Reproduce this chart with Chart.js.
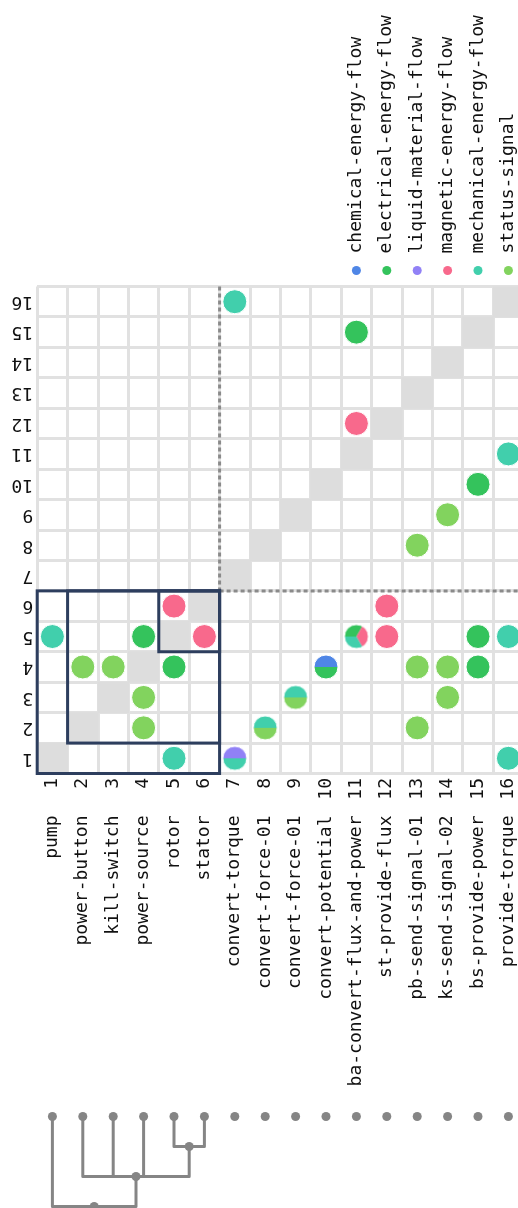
<!DOCTYPE html>
<html>
<head>
<meta charset="utf-8">
<script src="https://cdn.jsdelivr.net/npm/chart.js@4.4.1/dist/chart.umd.min.js"></script>
<style>
  html, body { margin: 0; padding: 0; background: #fff; overflow: hidden; }
  canvas { display: block; }
</style>
</head>
<body>
<canvas id="dsm" width="540" height="1215"></canvas>
<script>
// DSM of the pump model, drawn turned a quarter (labels read bottom to top)

const indexLabels = ['1', '2', '3', '4', '5', '6', '7', '8', '9', '10', '11', '12', '13', '14', '15', '16'];
const componentNames = [
  'pump', 'power-button', 'kill-switch', 'power-source', 'rotor', 'stator',
  'convert-torque', 'convert-force-01', 'convert-force-01', 'convert-potential',
  'ba-convert-flux-and-power', 'st-provide-flux', 'pb-send-signal-01',
  'ks-send-signal-02', 'bs-provide-power', 'provide-torque'
];
const flowTypes = [
  'chemical-energy-flow', 'electrical-energy-flow', 'liquid-material-flow',
  'magnetic-energy-flow', 'mechanical-energy-flow', 'status-signal'
];
const flowColors = ['#4f86e6', '#34c35c', '#9181f6', '#f8698c', '#41cfac', '#82d35e'];

// one entry per filled cell: column, row, flows (index into flowTypes)
const linkColumns = [7, 11, 11, 16, 15, 14, 13, 5, 12, 1, 4, 6, 11, 12, 15, 16, 2, 3, 5, 10, 13, 14, 15, 4, 9, 14, 4, 8, 13, 5, 7, 16];
const linkRows    = [16, 15, 12, 11, 10, 9, 8, 6, 6, 5, 5, 5, 5, 5, 5, 5, 4, 4, 4, 4, 4, 4, 4, 3, 3, 3, 2, 2, 2, 1, 1, 1];
const linkFlows = [
  [4], [1], [3], [4], [1], [5], [5],
  [3], [3],
  [4], [1], [3], [1, 3, 4], [3], [1], [4],
  [5], [5], [1], [0, 1], [5], [5], [1],
  [5], [4, 5], [5],
  [5], [4, 5], [5],
  [4], [2, 4], [4]
];

// nested clusters: first member of each, all end at the same element
const clusterStarts = [1, 2, 5];
const clusterEnd = 6;

// dendrogram merges ('mK' = result of merge K) and their heights
const mergeChildren = [[5, 6], [2, 3, 4, 'm0'], [1, 'm1']];
const mergeHeights = [1, 2, 3];

const n = indexLabels.length;
const edges = indexLabels.map((_, i) => i + 0.5).concat([n + 0.5]);
const FONT = '18px "DejaVu Sans Mono", monospace';
const GRAY = '#858585';

function pieImage(flows) {
  const r = 12;
  const c = document.createElement('canvas');
  c.width = c.height = 2 * r + 2;
  const g = c.getContext('2d');
  const step = 2 * Math.PI / flows.length;
  flows.forEach((f, k) => {
    g.beginPath();
    g.moveTo(r + 1, r + 1);
    g.arc(r + 1, r + 1, r, Math.PI + k * step, Math.PI + (k + 1) * step);
    g.closePath();
    g.fillStyle = flowColors[f];
    g.fill();
  });
  g.beginPath();
  g.arc(r + 1, r + 1, r, 0, 2 * Math.PI);
  g.strokeStyle = '#fff';
  g.lineWidth = 1;
  g.stroke();
  return c;
}

const linkData = linkColumns.map((c, i) => ({ x: c, y: linkRows[i] }));
const linkStyles = linkFlows.map(f => f.length > 1 ? pieImage(f) : 'circle');
const linkFill = linkFlows.map(f => flowColors[f[0]]);
const diagData = indexLabels.map((_, i) => ({ x: i + 1, y: i + 1 }));

function cellRadius(ctx) {
  const s = ctx.chart.scales.x;
  return (Math.abs(s.getPixelForValue(1) - s.getPixelForValue(0)) + 1) / Math.SQRT2;
}

function axis(horizontal) {
  return {
    type: 'linear',
    min: 0.5,
    max: n + 0.5,
    afterBuildTicks: s => { s.ticks = edges.map(v => ({ value: v })); },
    afterFit: s => { if (horizontal) s.height = 0; else s.width = 0; },
    ticks: { display: false },
    grid: { color: '#e1e1e1', lineWidth: 3, drawTicks: false },
    border: { display: false }
  };
}

function upText(ctx, text, x, y, align) {
  ctx.save();
  ctx.translate(x, y);
  ctx.rotate(-Math.PI / 2);
  ctx.textAlign = align;
  ctx.fillText(text, 0, 0);
  ctx.restore();
}

const decor = {
  id: 'decor',
  afterDatasetsDraw(chart) {
    const ctx = chart.ctx;
    const x = chart.scales.x, y = chart.scales.y;
    const area = chart.chartArea;
    const px = v => x.getPixelForValue(v);
    const py = v => y.getPixelForValue(v);
    ctx.save();

    // divider after the clustered block
    ctx.strokeStyle = '#8a8a8a';
    ctx.lineWidth = 3;
    ctx.setLineDash([4, 3]);
    ctx.beginPath();
    ctx.moveTo(px(clusterEnd + 0.5), py(n + 0.5));
    ctx.lineTo(px(clusterEnd + 0.5), py(clusterEnd + 0.5));
    ctx.moveTo(px(clusterEnd + 0.5), py(clusterEnd + 0.5));
    ctx.lineTo(px(n + 0.5), py(clusterEnd + 0.5));
    ctx.stroke();
    ctx.setLineDash([]);

    // cluster boxes
    ctx.strokeStyle = '#2d3e5e';
    ctx.lineWidth = 3;
    clusterStarts.forEach(s => {
      const x0 = px(s - 0.5), x1 = px(clusterEnd + 0.5);
      const y0 = py(clusterEnd + 0.5), y1 = py(s - 0.5);
      ctx.strokeRect(x0, y0, x1 - x0, y1 - y0);
    });

    // labels
    ctx.font = FONT;
    ctx.fillStyle = '#111';
    ctx.textBaseline = 'middle';
    indexLabels.forEach((lab, i) => {
      ctx.save();
      ctx.translate(area.left - 4, py(i + 1));
      ctx.rotate(Math.PI);
      ctx.textAlign = 'left';
      ctx.fillText(lab, 0, 0);
      ctx.restore();

      upText(ctx, lab, px(i + 1), area.bottom + 4.5, 'right');
      upText(ctx, componentNames[i], px(i + 1), area.bottom + 42, 'right');
    });

    // legend, one item per column from the right end
    flowTypes.forEach((name, k) => {
      const cx = px(n - flowTypes.length + 1 + k);
      ctx.beginPath();
      ctx.arc(cx, area.top - 16, 4.5, 0, 2 * Math.PI);
      ctx.fillStyle = flowColors[k];
      ctx.fill();
      ctx.fillStyle = '#111';
      upText(ctx, name, cx, area.top - 33, 'left');
    });

    // dendrogram
    const leafY = area.bottom + 343;
    const levelStep = 30;
    const nodes = [];
    const where = c => typeof c === 'string' ? nodes[+c.slice(1)] : { x: px(c), y: leafY };
    ctx.strokeStyle = GRAY;
    ctx.lineWidth = 3;
    ctx.lineJoin = 'round';
    ctx.lineCap = 'round';
    mergeChildren.forEach((kids, m) => {
      const ly = leafY + mergeHeights[m] * levelStep;
      const pts = kids.map(where);
      const xs = pts.map(p => p.x);
      const minX = Math.min(...xs), maxX = Math.max(...xs);
      ctx.beginPath();
      pts.forEach(p => { ctx.moveTo(p.x, p.y); ctx.lineTo(p.x, ly); });
      ctx.moveTo(minX, ly);
      ctx.lineTo(maxX, ly);
      ctx.stroke();
      nodes.push({ x: (minX + maxX) / 2, y: ly });
    });
    ctx.fillStyle = GRAY;
    const dot = (cx, cy) => { ctx.beginPath(); ctx.arc(cx, cy, 4.5, 0, 2 * Math.PI); ctx.fill(); };
    indexLabels.forEach((_, i) => dot(px(i + 1), leafY));
    nodes.forEach(p => dot(p.x, p.y));

    ctx.restore();
  }
};

new Chart(document.getElementById('dsm'), {
  type: 'scatter',
  data: {
    datasets: [
      {
        label: 'links',
        data: linkData,
        order: 0,
        pointStyle: linkStyles,
        pointBackgroundColor: linkFill,
        pointBorderColor: '#fff',
        pointBorderWidth: 1,
        pointRadius: 12
      },
      {
        label: 'diagonal',
        data: diagData,
        order: 1,
        pointStyle: 'rect',
        pointBackgroundColor: '#dddddd',
        pointBorderWidth: 0,
        pointRadius: cellRadius
      }
    ]
  },
  options: {
    responsive: false,
    animation: false,
    events: [],
    layout: { padding: { left: 37.2, top: 286.5, right: 16.4, bottom: 441.5 } },
    scales: { x: axis(true), y: axis(false) },
    plugins: { legend: { display: false }, tooltip: { enabled: false } }
  },
  plugins: [decor]
});
</script>
</body>
</html>
